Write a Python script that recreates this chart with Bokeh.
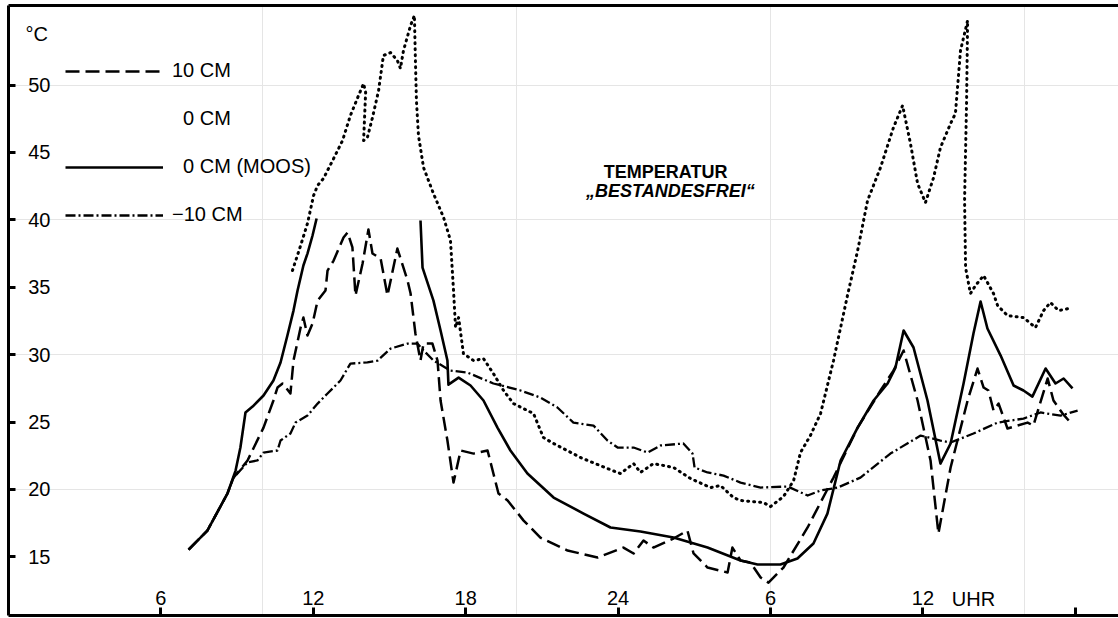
from bokeh.plotting import figure
from bokeh.models import Range1d, LinearAxis, FixedTicker, Legend, LegendItem, Label
from bokeh.embed import file_html
from bokeh.resources import INLINE

FONT = "Liberation Sans"

# ---------------- data (hours since midnight of day 1, temperature in deg C) ----------------
y_ticks = [15, 20, 25, 30, 35, 40, 45, 50]
y_tick_labels = ["15", "20", "25", "30", "35", "40", "45", "50"]
x_ticks = [6, 12, 18, 24, 30, 36, 42]
x_tick_labels = ["6", "12", "18", "24", "6", "12", ""]   # last tick (42) is unlabelled

# 10 CM (dashed)
air10_h = [7.09, 7.83, 8.62, 8.86, 9.41, 10.04, 10.43, 10.59, 10.79, 11.10, 11.22, 11.50, 11.61, 11.77,
           11.97, 12.17, 12.48, 12.56, 12.80, 13.19, 13.35, 13.54, 13.66, 13.94, 14.17, 14.33, 14.65,
           14.92, 15.31, 15.71, 15.83, 16.02, 16.22, 16.34, 16.69, 16.89, 17.01, 17.28, 17.52, 17.80,
           18.31, 18.86, 19.09, 19.29, 19.65, 20.28, 20.94, 22.01, 23.19, 24.21, 24.61, 25.00, 25.39,
           26.18, 26.73, 26.97, 27.52, 28.31, 28.50, 28.82, 29.21, 29.61, 29.92, 30.51, 31.46, 32.48,
           33.43, 34.33, 34.84, 35.24, 35.79, 36.30, 36.61, 37.09, 37.76, 38.15, 38.39, 38.58, 38.78,
           38.98, 39.33, 39.72, 40.12, 40.35, 40.91, 41.14, 41.50, 41.81]
air10_t = [15.54, 16.95, 19.70, 20.88, 22.15, 24.59, 26.60, 27.56, 27.86, 27.12, 29.56, 32.01, 32.75, 31.42,
           32.31, 34.01, 34.76, 36.24, 36.98, 38.69, 39.06, 37.95, 34.39, 36.76, 39.28, 37.50, 37.13,
           34.39, 37.87, 35.50, 34.53, 31.57, 29.56, 30.82, 30.82, 29.56, 26.60, 23.63, 20.51, 22.89,
           22.66, 22.89, 21.18, 19.70, 19.18, 17.69, 16.43, 15.47, 14.95, 15.69, 15.25, 16.21, 15.69,
           16.36, 16.95, 15.25, 14.21, 13.84, 15.69, 14.73, 14.58, 13.47, 13.09, 14.21, 17.18, 20.88,
           24.59, 27.34, 28.82, 30.31, 26.60, 22.15, 16.73, 21.63, 26.60, 28.97, 27.56, 27.34, 25.85,
           26.37, 24.52, 24.74, 24.96, 24.74, 28.23, 26.60, 25.63, 24.96]

# 0 CM (dotted)
surf_h = [11.18, 11.50, 11.77, 12.01, 12.17, 12.40, 12.76, 13.15, 13.46, 13.78, 13.98, 14.06, 13.98, 14.13,
          14.33, 14.57, 14.76, 15.04, 15.31, 15.43, 15.55, 15.83, 15.98, 16.02, 16.06, 16.14, 16.34,
          16.73, 17.13, 17.40, 17.52, 17.60, 17.72, 17.91, 18.31, 18.70, 19.09, 19.49, 19.88, 20.67,
          21.06, 21.46, 22.52, 23.58, 24.09, 24.61, 24.88, 25.39, 26.18, 26.85, 27.64, 28.03, 28.54,
          28.82, 29.72, 30.00, 30.51, 30.91, 31.18, 31.57, 31.97, 32.48, 33.03, 33.43, 33.82, 34.33,
          34.84, 35.20, 35.51, 35.79, 36.10, 36.42, 36.69, 37.09, 37.28, 37.48, 37.76, 37.72, 37.64,
          37.68, 37.87, 38.07, 38.39, 38.78, 38.94, 39.33, 39.96, 40.43, 40.75, 41.02, 41.34, 41.73]
surf_t = [36.24, 38.09, 39.73, 41.80, 42.55, 43.07, 44.40, 45.88, 47.74, 49.22, 50.11, 49.45, 45.88, 46.11,
          47.59, 49.59, 52.19, 52.41, 51.82, 51.23, 52.56, 54.42, 55.16, 51.82, 48.85, 46.26, 43.88,
          41.95, 40.17, 38.47, 34.76, 32.01, 32.75, 30.08, 29.56, 29.71, 28.60, 27.34, 26.37, 25.63,
          23.85, 23.41, 22.37, 21.55, 21.18, 21.92, 21.26, 21.92, 21.63, 20.81, 20.14, 20.29, 19.40,
          19.18, 19.03, 18.73, 19.47, 20.66, 22.74, 24.00, 25.63, 29.56, 34.39, 37.72, 41.43, 43.88,
          46.85, 48.48, 45.66, 42.69, 41.28, 43.14, 45.36, 47.15, 47.89, 52.56, 54.79, 48.85, 41.43,
          36.46, 34.53, 35.13, 35.87, 34.53, 33.64, 32.90, 32.75, 32.01, 33.27, 33.87, 33.27, 33.42]

# 0 CM (MOOS) (solid), two recorded pieces
moos1_h = [7.09, 7.83, 8.62, 8.94, 9.13, 9.33, 9.61, 10.04, 10.43, 10.71, 10.98, 11.22, 11.38, 11.61,
           11.77, 11.97, 12.13]
moos1_t = [15.54, 16.95, 19.70, 21.40, 23.11, 25.71, 26.15, 26.97, 28.08, 29.42, 31.42, 33.27, 34.76, 36.61,
           37.50, 38.84, 40.10]
moos2_h = [16.22, 16.30, 16.73, 17.01, 17.28, 17.32, 17.72, 18.19, 18.70, 19.25, 19.76, 20.43, 21.46, 22.64,
           23.70, 24.88, 26.18, 27.52, 28.82, 29.49, 30.39, 31.06, 31.69, 32.24, 32.76, 33.43, 34.06,
           34.61, 34.92, 35.24, 35.63, 36.18, 36.69, 37.09, 37.60, 37.99, 38.27, 38.54, 39.06, 39.57,
           39.96, 40.31, 40.83, 41.22, 41.54, 41.89]
moos2_t = [39.95, 36.46, 34.01, 31.79, 29.56, 27.78, 28.30, 27.71, 26.60, 24.59, 22.89, 21.18, 19.40, 18.21,
           17.18, 16.88, 16.43, 15.69, 14.73, 14.43, 14.43, 14.88, 15.99, 18.21, 22.15, 24.59, 26.60,
           27.86, 29.04, 31.79, 30.53, 26.60, 21.92, 23.41, 27.86, 31.57, 33.94, 31.94, 29.93, 27.71,
           27.34, 26.89, 28.97, 27.86, 28.23, 27.49]

# -10 CM (dash-dot)
soil_h = [7.09, 7.83, 8.62, 8.86, 9.41, 9.80, 10.04, 10.59, 10.71, 11.10, 11.30, 11.77, 12.17, 12.56, 13.07,
          13.46, 14.13, 14.53, 15.04, 15.71, 16.10, 16.34, 16.73, 17.40, 18.07, 19.09, 20.16, 20.94,
          21.61, 22.24, 23.03, 23.58, 23.98, 24.61, 25.16, 25.67, 26.57, 26.93, 27.01, 27.52, 28.15,
          28.82, 29.61, 30.67, 31.46, 31.97, 32.64, 33.54, 34.72, 35.91, 36.69, 37.09, 37.99, 38.94,
          39.96, 40.63, 41.42, 42.09]
soil_t = [15.54, 16.95, 19.70, 20.88, 22.00, 22.15, 22.74, 22.89, 23.63, 24.15, 24.96, 25.48, 26.37, 27.12,
          28.08, 29.34, 29.42, 29.56, 30.45, 30.82, 30.82, 30.31, 29.56, 28.82, 28.67, 27.86, 27.34,
          26.82, 26.08, 24.96, 24.74, 23.63, 23.11, 23.11, 22.74, 23.26, 23.41, 22.66, 21.63, 21.26,
          21.03, 20.51, 20.14, 20.22, 19.55, 19.92, 20.14, 20.88, 22.66, 24.00, 23.63, 23.48, 24.15,
          24.96, 25.26, 25.71, 25.48, 25.85]

series_names = ["10 CM", "\u20070 CM", "\u20070 CM (MOOS)", "\u221210 CM"]

# ---------------- figure ----------------
p = figure(width=1118, height=618, x_range=Range1d(0, 43.70), y_range=Range1d(10.65, 55.90),
           output_backend="svg", toolbar_location=None, x_axis_location=None, y_axis_location=None,
           min_border_left=8, min_border_right=0, min_border_top=5, min_border_bottom=3)
p.outline_line_color = None
p.background_fill_color = "white"
p.border_fill_color = "white"


def frame_axis(ticks, labels, tick_in, standoff):
    ax = LinearAxis(ticker=FixedTicker(ticks=ticks, minor_ticks=[]), axis_line_width=3,
                    axis_line_color="black", major_tick_in=tick_in, major_tick_out=0,
                    major_tick_line_width=3, major_tick_line_color="black",
                    minor_tick_in=0, minor_tick_out=0, major_label_standoff=standoff,
                    major_label_text_font=FONT, major_label_text_font_size="20px",
                    major_label_text_color="black",
                    major_label_overrides={t: s for t, s in zip(ticks, labels)})
    return ax


# labels drawn inside the frame (negative standoff), as in the original
p.add_layout(frame_axis(y_ticks, y_tick_labels, 7, -42), "left")
p.add_layout(frame_axis(x_ticks, x_tick_labels, 8, -25), "below")
top = LinearAxis(ticker=FixedTicker(ticks=[], minor_ticks=[]), axis_line_width=3, axis_line_color="black",
                 major_tick_in=0, major_tick_out=0, minor_tick_in=0, minor_tick_out=0,
                 major_label_text_font_size="0px", major_label_text_color=None, major_label_standoff=0)
p.add_layout(top, "above")

r_air = p.line(air10_h, air10_t, line_color="black", line_width=2.5, line_dash="14 6", line_join="round")
r_surf = p.line(surf_h, surf_t, line_color="black", line_width=3, line_dash="1 5", line_cap="round",
                line_join="round")
r_surf_key = p.line(surf_h, surf_t, line_alpha=0)
r_moos = p.line(moos1_h, moos1_t, line_color="black", line_width=2.6, line_join="round")
p.line(moos2_h, moos2_t, line_color="black", line_width=2.6, line_join="round")
r_soil = p.line(soil_h, soil_t, line_color="black", line_width=2.3, line_dash="10 3 2 3", line_join="round")

legend = Legend(items=[LegendItem(label=series_names[0], renderers=[r_air]),
                       LegendItem(label=series_names[1], renderers=[r_surf_key]),
                       LegendItem(label=series_names[2], renderers=[r_moos]),
                       LegendItem(label=series_names[3], renderers=[r_soil])],
                location=(57, 389), orientation="vertical", glyph_width=98, glyph_height=22,
                label_height=22, label_standoff=9, spacing=25, padding=0, margin=0,
                border_line_color=None, background_fill_alpha=0, label_text_font=FONT,
                label_text_font_size="20px", label_text_color="black")
p.add_layout(legend)

p.add_layout(Label(x=37.14, y=11.9, text="UHR", text_font=FONT, text_font_size="20px",
                   text_align="left", text_baseline="middle", text_color="black"))
p.add_layout(Label(x=0.67, y=53.8, text="\u00b0C", text_font=FONT, text_font_size="20px",
                   text_align="left", text_baseline="middle", text_color="black"))
p.add_layout(Label(x=25.87, y=43.58, text="TEMPERATUR", text_font=FONT, text_font_size="18px",
                   text_font_style="bold", text_align="center", text_baseline="middle", text_color="black"))
p.add_layout(Label(x=26.06, y=42.17, text="\u201eBESTANDESFREI\u201c", text_font=FONT,
                   text_font_size="18px", text_font_style="bold italic", text_align="center",
                   text_baseline="middle", text_color="black"))

open("out.html", "w").write(file_html(p, INLINE))
